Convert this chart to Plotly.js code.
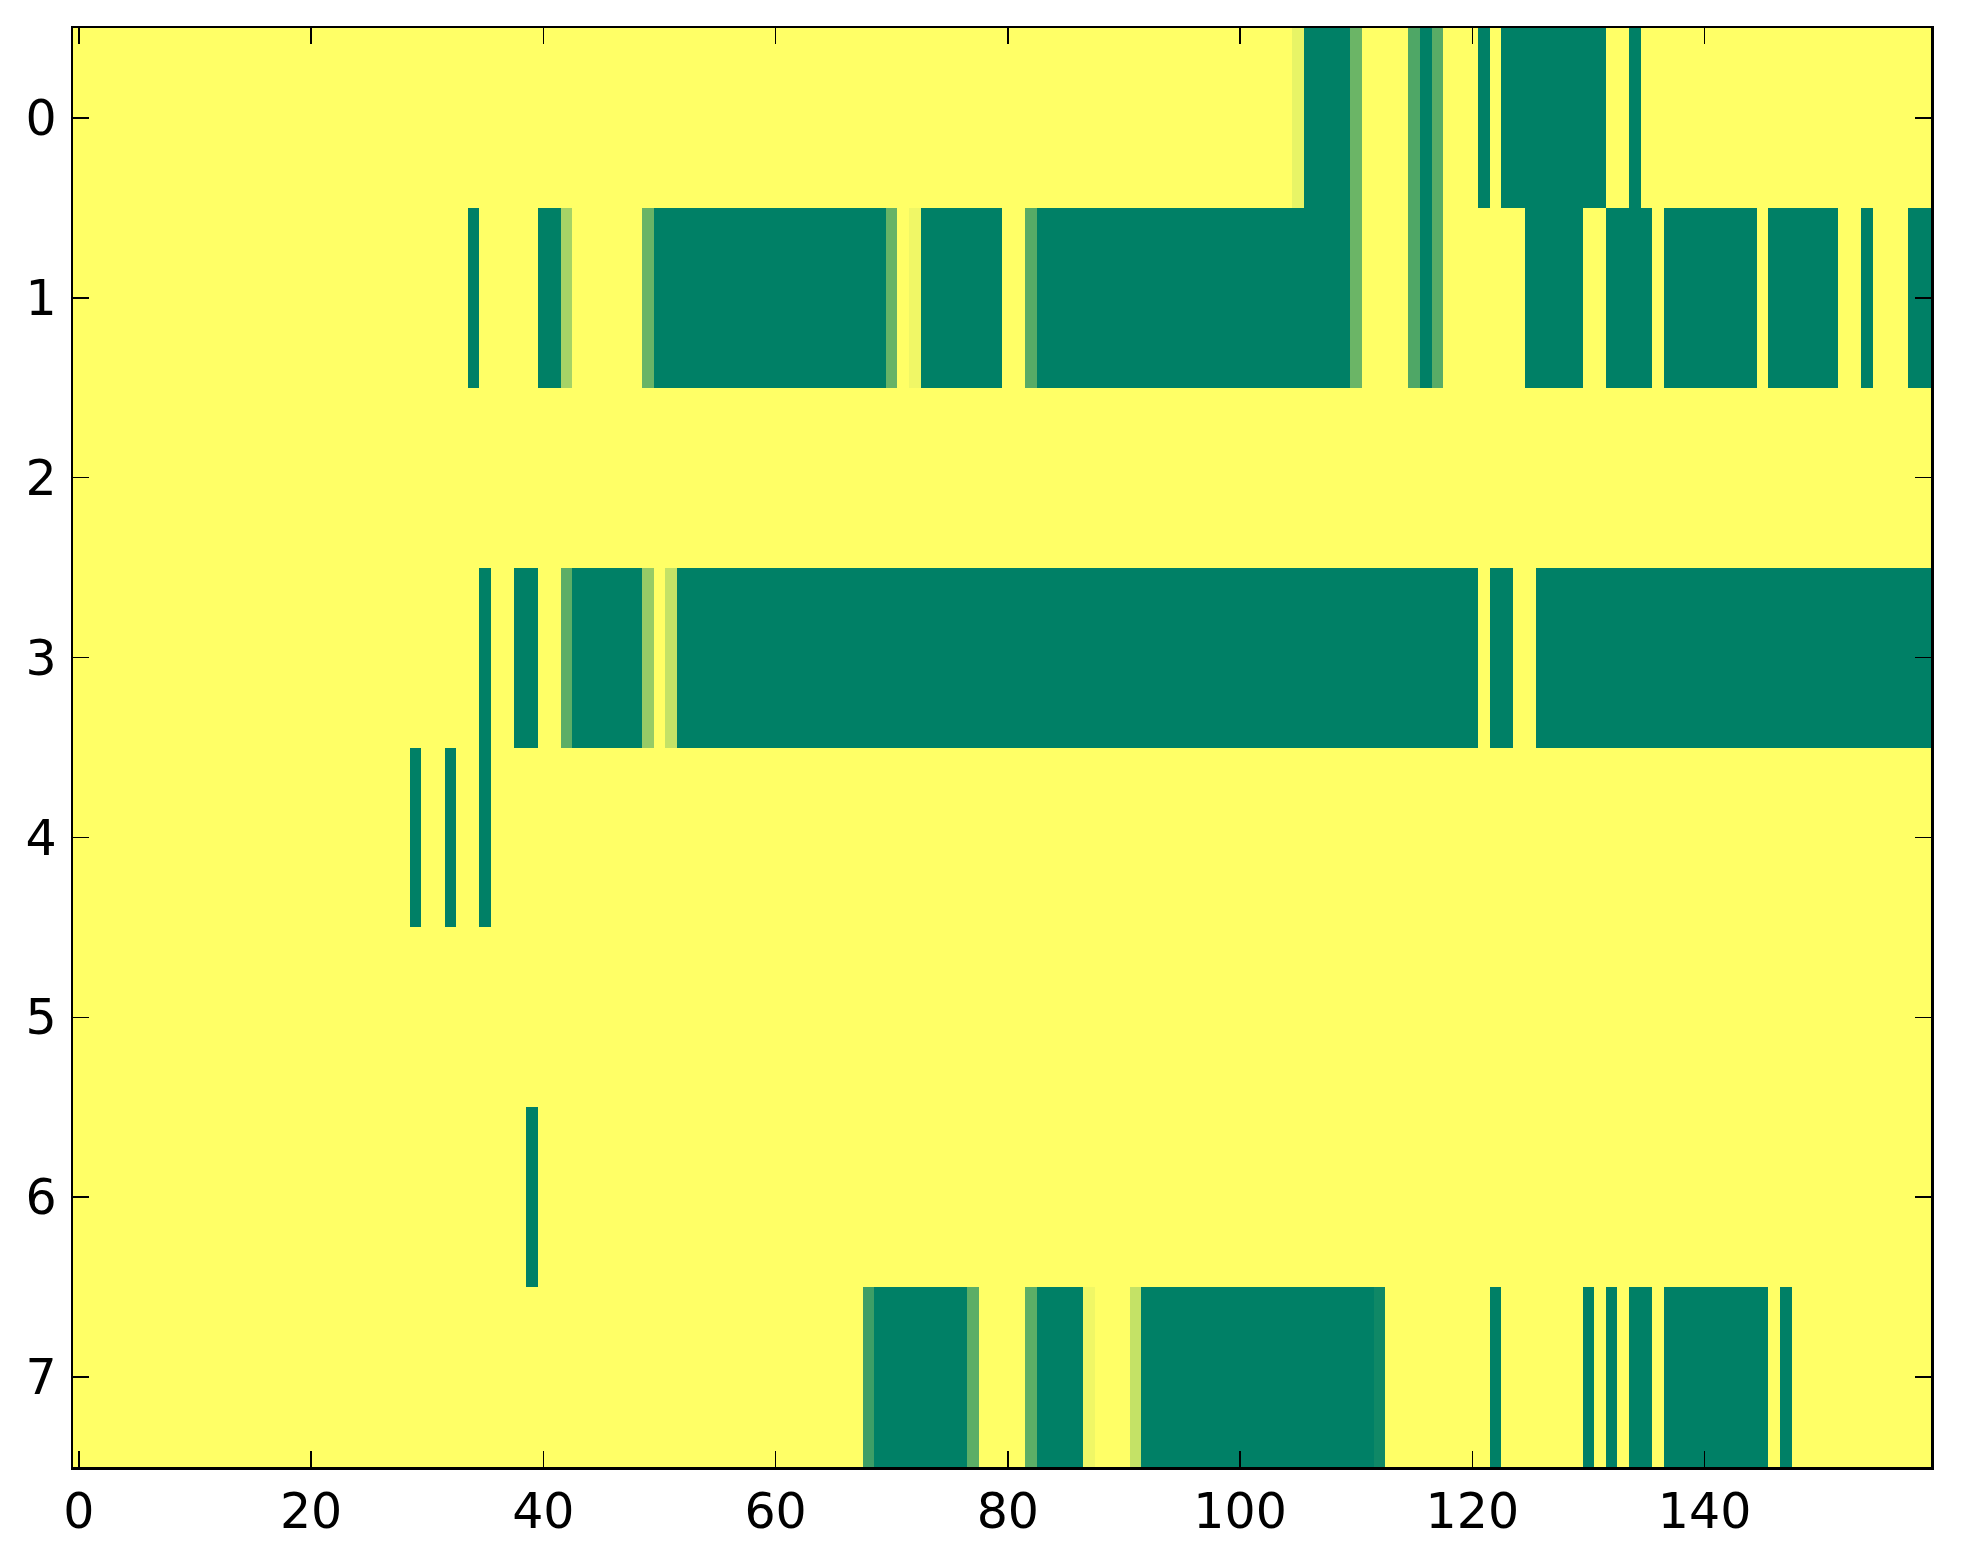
<!DOCTYPE html>
<html>
<head>
<meta charset="utf-8">
<script src="https://cdn.plot.ly/plotly-3.0.1.min.js"></script>
<style>
  html, body { margin: 0; padding: 0; background: #ffffff; }
  #chart { width: 1963px; height: 1564px; }
</style>
</head>
<body>
<div id="chart"></div>
<script>
// Row values (0 = yellow, 1 = green), 160 columns each
const row0 = [
  0,0,0,0,0,0,0,0,0,0,  0,0,0,0,0,0,0,0,0,0,
  0,0,0,0,0,0,0,0,0,0,  0,0,0,0,0,0,0,0,0,0,
  0,0,0,0,0,0,0,0,0,0,  0,0,0,0,0,0,0,0,0,0,
  0,0,0,0,0,0,0,0,0,0,  0,0,0,0,0,0,0,0,0,0,
  0,0,0,0,0,0,0,0,0,0,  0,0,0,0,0,0,0,0,0,0,
  0,0,0,0,0,0.09,1,1,1,1,  0.58,0,0,0,0,0.69,1,0.65,0,0,
  0,1,0,1,1,1,1,1,1,1,  1,1,0,0,1,0,0,0,0,0,
  0,0,0,0,0,0,0,0,0,0,  0,0,0,0,0,0,0,0,0,0
];
const row1 = [
  0,0,0,0,0,0,0,0,0,0,  0,0,0,0,0,0,0,0,0,0,
  0,0,0,0,0,0,0,0,0,0,  0,0,0,0,1,0,0,0,0,0,
  1,1,0.35,0,0,0,0,0,0,0.59,  1,1,1,1,1,1,1,1,1,1,
  1,1,1,1,1,1,1,1,1,1,  0.6,0,0.06,1,1,1,1,1,1,1,
  0,0,0.66,1,1,1,1,1,1,1,  1,1,1,1,1,1,1,1,1,1,
  1,1,1,1,1,1,1,1,1,1,  0.58,0,0,0,0,0.69,1,0.65,0,0,
  0,0,0,0,0,1,1,1,1,1,  0,0,1,1,1,1,0,1,1,1,
  1,1,1,1,1,0,1,1,1,1,  1,1,0,0,1,0,0,0,1,1
];
const row2 = [
  0,0,0,0,0,0,0,0,0,0,  0,0,0,0,0,0,0,0,0,0,
  0,0,0,0,0,0,0,0,0,0,  0,0,0,0,0,0,0,0,0,0,
  0,0,0,0,0,0,0,0,0,0,  0,0,0,0,0,0,0,0,0,0,
  0,0,0,0,0,0,0,0,0,0,  0,0,0,0,0,0,0,0,0,0,
  0,0,0,0,0,0,0,0,0,0,  0,0,0,0,0,0,0,0,0,0,
  0,0,0,0,0,0,0,0,0,0,  0,0,0,0,0,0,0,0,0,0,
  0,0,0,0,0,0,0,0,0,0,  0,0,0,0,0,0,0,0,0,0,
  0,0,0,0,0,0,0,0,0,0,  0,0,0,0,0,0,0,0,0,0
];
const row3 = [
  0,0,0,0,0,0,0,0,0,0,  0,0,0,0,0,0,0,0,0,0,
  0,0,0,0,0,0,0,0,0,0,  0,0,0,0,0,1,0,0,1,1,
  0,0,0.64,1,1,1,1,1,1,0.41,  0,0.23,1,1,1,1,1,1,1,1,
  1,1,1,1,1,1,1,1,1,1,  1,1,1,1,1,1,1,1,1,1,
  1,1,1,1,1,1,1,1,1,1,  1,1,1,1,1,1,1,1,1,1,
  1,1,1,1,1,1,1,1,1,1,  1,1,1,1,1,1,1,1,1,1,
  1,0,1,1,0,0,1,1,1,1,  1,1,1,1,1,1,1,1,1,1,
  1,1,1,1,1,1,1,1,1,1,  1,1,1,1,1,1,1,1,1,1
];
const row4 = [
  0,0,0,0,0,0,0,0,0,0,  0,0,0,0,0,0,0,0,0,0,
  0,0,0,0,0,0,0,0,0,1,  0,0,1,0,0,1,0,0,0,0,
  0,0,0,0,0,0,0,0,0,0,  0,0,0,0,0,0,0,0,0,0,
  0,0,0,0,0,0,0,0,0,0,  0,0,0,0,0,0,0,0,0,0,
  0,0,0,0,0,0,0,0,0,0,  0,0,0,0,0,0,0,0,0,0,
  0,0,0,0,0,0,0,0,0,0,  0,0,0,0,0,0,0,0,0,0,
  0,0,0,0,0,0,0,0,0,0,  0,0,0,0,0,0,0,0,0,0,
  0,0,0,0,0,0,0,0,0,0,  0,0,0,0,0,0,0,0,0,0
];
const row5 = [
  0,0,0,0,0,0,0,0,0,0,  0,0,0,0,0,0,0,0,0,0,
  0,0,0,0,0,0,0,0,0,0,  0,0,0,0,0,0,0,0,0,0,
  0,0,0,0,0,0,0,0,0,0,  0,0,0,0,0,0,0,0,0,0,
  0,0,0,0,0,0,0,0,0,0,  0,0,0,0,0,0,0,0,0,0,
  0,0,0,0,0,0,0,0,0,0,  0,0,0,0,0,0,0,0,0,0,
  0,0,0,0,0,0,0,0,0,0,  0,0,0,0,0,0,0,0,0,0,
  0,0,0,0,0,0,0,0,0,0,  0,0,0,0,0,0,0,0,0,0,
  0,0,0,0,0,0,0,0,0,0,  0,0,0,0,0,0,0,0,0,0
];
const row6 = [
  0,0,0,0,0,0,0,0,0,0,  0,0,0,0,0,0,0,0,0,0,
  0,0,0,0,0,0,0,0,0,0,  0,0,0,0,0,0,0,0,0,1,
  0,0,0,0,0,0,0,0,0,0,  0,0,0,0,0,0,0,0,0,0,
  0,0,0,0,0,0,0,0,0,0,  0,0,0,0,0,0,0,0,0,0,
  0,0,0,0,0,0,0,0,0,0,  0,0,0,0,0,0,0,0,0,0,
  0,0,0,0,0,0,0,0,0,0,  0,0,0,0,0,0,0,0,0,0,
  0,0,0,0,0,0,0,0,0,0,  0,0,0,0,0,0,0,0,0,0,
  0,0,0,0,0,0,0,0,0,0,  0,0,0,0,0,0,0,0,0,0
];
const row7 = [
  0,0,0,0,0,0,0,0,0,0,  0,0,0,0,0,0,0,0,0,0,
  0,0,0,0,0,0,0,0,0,0,  0,0,0,0,0,0,0,0,0,0,
  0,0,0,0,0,0,0,0,0,0,  0,0,0,0,0,0,0,0,0,0,
  0,0,0,0,0,0,0,0,0.76,1,  1,1,1,1,1,1,1,0.64,0,0,
  0,0,0.64,1,1,1,1,0.06,0,0,  0,0.23,1,1,1,1,1,1,1,1,
  1,1,1,1,1,1,1,1,1,1,  1,1,0.94,0,0,0,0,0,0,0,
  0,0,1,0,0,0,0,0,0,0,  1,0,1,0,1,1,0,1,1,1,
  1,1,1,1,1,1,0,1,0,0,  0,0,0,0,0,0,0,0,0,0
];

const xTickVals = [0, 20, 40, 60, 80, 100, 120, 140];
const xTickText = ["0", "20", "40", "60", "80", "100", "120", "140"];
const yTickVals = [0, 1, 2, 3, 4, 5, 6, 7];
const yTickText = ["0", "1", "2", "3", "4", "5", "6", "7"];

const z = [row0, row1, row2, row3, row4, row5, row6, row7];

const trace = {
  type: 'heatmap',
  z: z,
  zmin: 0,
  zmax: 1,
  colorscale: [[0, '#ffff66'], [1, '#008066']],
  showscale: false,
  hoverinfo: 'skip'
};

const axisCommon = {
  showgrid: false,
  zeroline: false,
  showline: true,
  linecolor: '#000000',
  linewidth: 2.5,
  mirror: 'ticks',
  ticks: 'inside',
  ticklen: 16,
  tickwidth: 1.5,
  tickcolor: '#000000',
  tickfont: { family: 'DejaVu Sans', size: 49, color: '#000000' }
};

const layout = {
  width: 1963,
  height: 1564,
  margin: { l: 73, r: 32, t: 28, b: 97, pad: 0 },
  paper_bgcolor: '#ffffff',
  plot_bgcolor: '#ffffff',
  showlegend: false,
  xaxis: Object.assign({}, axisCommon, {
    range: [-0.5, 159.5],
    tickmode: 'array',
    tickvals: xTickVals,
    ticktext: xTickText,
    ticklabelstandoff: 0
  }),
  yaxis: Object.assign({}, axisCommon, {
    range: [7.5, -0.5],
    tickmode: 'array',
    tickvals: yTickVals,
    ticktext: yTickText,
    ticklabelstandoff: 4
  })
};

Plotly.newPlot('chart', [trace], layout, { displayModeBar: false, staticPlot: true });
</script>
</body>
</html>
